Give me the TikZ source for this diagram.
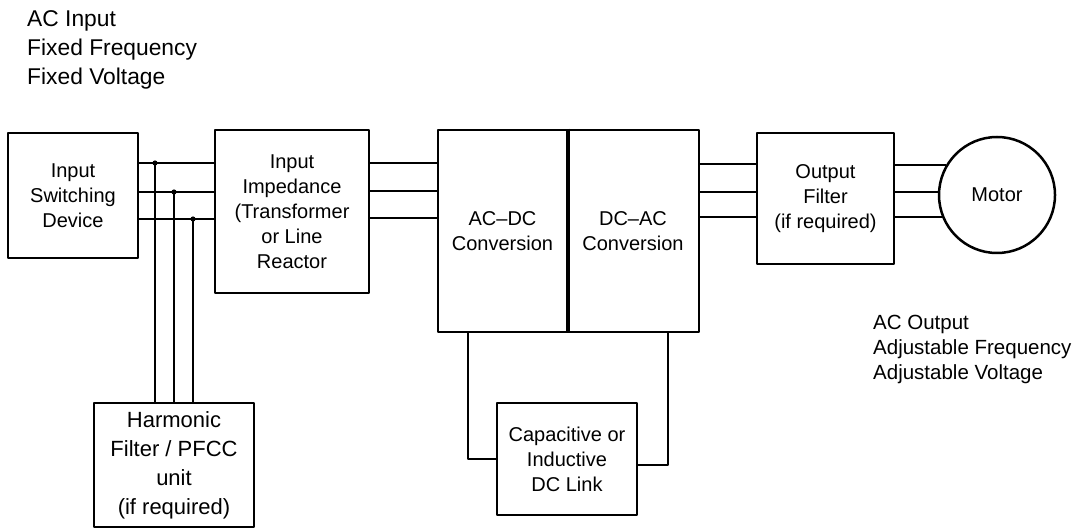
\documentclass[tikz,border=0pt]{standalone}
\usepackage{fontspec}
\setmainfont{Liberation Sans}
\begin{document}
	\begin{tikzpicture}[line cap=round,line join=round,x=1pt,y=-1pt,
		blk/.style={draw,line width=2.5pt,rectangle,align=center,inner sep=2pt,font=\fontsize{20}{25}\selectfont},
		wire/.style={line width=1.8pt},
		txt/.style={anchor=north west,align=left,inner sep=0pt}]
		\useasboundingbox (0,0) rectangle (1076,529);
		
		\node[txt,font=\fontsize{22.8}{29}\selectfont] (acin) at (27,10) {AC Input\\Fixed Frequency\\Fixed Voltage};
		\node[txt,font=\fontsize{20.5}{25}\selectfont] (acout) at (873,315) {AC Output\\Adjustable Frequency\\Adjustable Voltage};
		
		\node[blk,minimum width=130,minimum height=125] (isd) at (73,195.5) {Input\\Switching\\Device};
		\node[blk,minimum width=154,minimum height=163] (imp) at (292,211.5) {Input\\Impedance\\(Transformer\\or Line\\Reactor};
		\node[blk,minimum width=129,minimum height=202] (acdc) at (502.5,231) {AC--DC\\Conversion};
		\node[blk,minimum width=132,minimum height=202] (dcac) at (633,231) {DC--AC\\Conversion};
		\node[blk,minimum width=137,minimum height=131] (filt) at (825.5,198.5) {Output\\Filter\\(if required)};
		\node[blk,circle,minimum size=116] (motor) at (997,195) {Motor};
		\node[blk,minimum width=160,minimum height=124,font=\fontsize{22}{29}\selectfont] (harm) at (174,465) {Harmonic\\Filter / PFCC\\unit\\(if required)};
		\node[blk,minimum width=140,minimum height=112] (link) at (567,459) {Capacitive or\\Inductive\\DC Link};
		\draw[line width=4pt,line cap=butt] (acdc.north east) -- (acdc.south east);
		
		% three phase lines
		\foreach \y in {163,192,219}
			\draw[wire] (isd.east |- 0,\y) -- (imp.west |- 0,\y);
		\foreach \y in {163,191,218}
			\draw[wire] (imp.east |- 0,\y) -- (acdc.west |- 0,\y);
		\foreach \y in {164,192,217}
			\draw[wire] (dcac.east |- 0,\y) -- (filt.west |- 0,\y);
		\foreach \a in {150,177,202}
			\draw[wire] (motor.\a -| filt.east) -- (motor.\a);
		
		% taps to the harmonic filter
		\coordinate (j1) at (155,163);
		\coordinate (j2) at (174,192);
		\coordinate (j3) at (193,219);
		\foreach \j in {j1,j2,j3}{
			\draw[wire] (\j) -- (\j |- harm.north);
			\fill (\j) circle (2.6pt);
		}
		
		% dc link
		\coordinate (l1) at (468,459);
		\coordinate (l2) at (668,465);
		\draw[wire] (l1 |- acdc.south) -- (l1) -- (link.west |- l1);
		\draw[wire] (l2 |- dcac.south) -- (l2) -- (link.east |- l2);
	\end{tikzpicture}
\end{document}
